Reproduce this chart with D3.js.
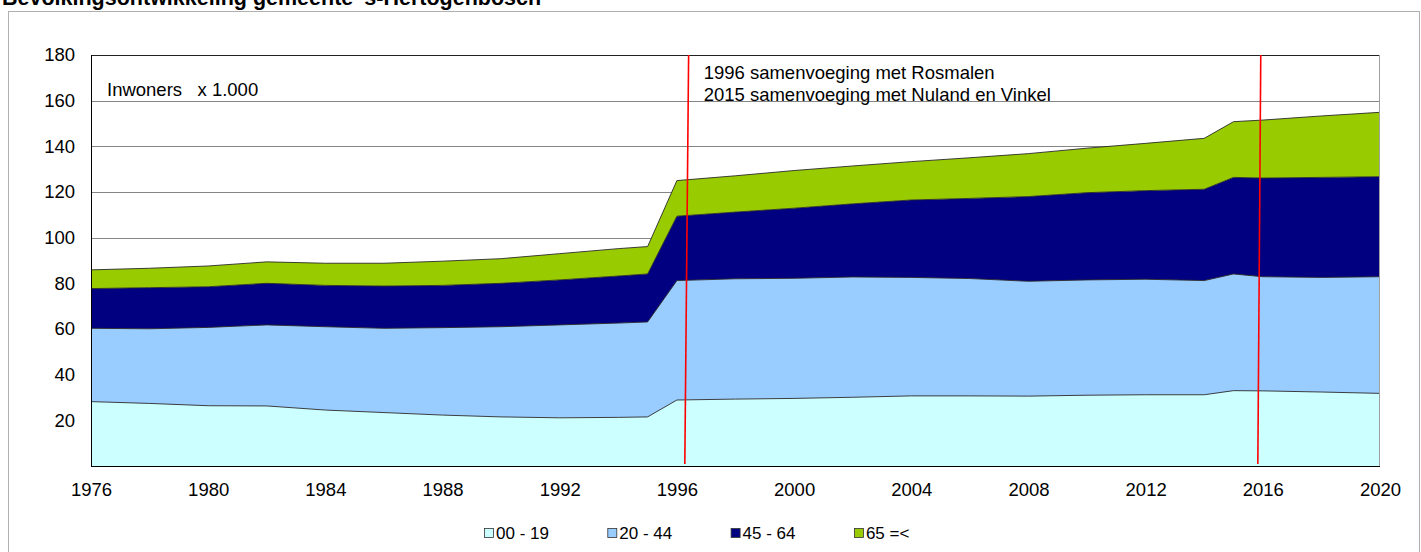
<!DOCTYPE html>
<html>
<head>
<meta charset="utf-8">
<script src="https://cdn.jsdelivr.net/npm/d3@7"></script>
<style>
    body { margin: 0; background: #fff; }
    svg { display: block; font-family: "Liberation Sans", Arial, sans-serif; }
</style>
</head>
<body>
<svg width="1421" height="552"></svg>
<script>
"use strict"

// inwoners x 1.000
const years = [1976, 1978, 1980, 1982, 1984, 1986, 1988, 1990, 1992, 1994, 1995, 1996, 1998, 2000, 2002, 2004, 2006, 2008, 2010, 2012, 2014, 2015, 2016, 2018, 2020]
const age0019 = [28.2, 27.4, 26.4, 26.3, 24.5, 23.4, 22.3, 21.5, 21.1, 21.3, 21.5, 28.9, 29.3, 29.6, 30.1, 30.7, 30.7, 30.6, 31.0, 31.2, 31.2, 33.0, 32.9, 32.4, 31.8]
const age2044 = [32.1, 32.7, 34.3, 35.5, 36.5, 36.9, 38.3, 39.5, 40.7, 41.3, 41.6, 52.3, 52.7, 52.6, 52.7, 51.9, 51.4, 50.3, 50.5, 50.6, 50.0, 51.1, 50.0, 50.2, 51.1]
const age4564 = [17.4, 18.0, 17.8, 18.2, 18.1, 18.5, 18.5, 19.0, 19.7, 20.6, 21.0, 28.2, 29.2, 30.7, 32.0, 33.9, 35.1, 37.1, 38.2, 38.8, 40.0, 42.3, 43.2, 43.8, 43.8]
const age65plus = [8.2, 8.5, 9.1, 9.4, 9.7, 10.0, 10.6, 10.8, 11.5, 12.0, 12.0, 15.6, 15.9, 16.5, 16.6, 16.8, 17.8, 18.8, 19.5, 20.7, 22.3, 24.4, 25.4, 26.9, 28.2]

const seriesKeys = ["00 - 19", "20 - 44", "45 - 64", "65 =<"]
const seriesValues = [age0019, age2044, age4564, age65plus]
const seriesColors = ["#ccffff", "#99ccff", "#000080", "#99cc00"]

const yTicks = [20, 40, 60, 80, 100, 120, 140, 160, 180]
const xTicks = [1976, 1980, 1984, 1988, 1992, 1996, 2000, 2004, 2008, 2012, 2016, 2020]

// merger markers (year at top, year at bottom - drawn slightly slanted)
const mergerLines = [[1996.4, 1996.27], [2015.93, 2015.83]]
const mergerNotes = ["1996 samenvoeging met Rosmalen", "2015 samenvoeging met Nuland en Vinkel"]

const title = "Bevolkingsontwikkeling gemeente 's-Hertogenbosch"
const unitLabel = "Inwoners   x 1.000"

const plot = { left: 91, right: 1380, top: 55, bottom: 466 }

const svg = d3.select("svg")

const x = d3.scaleLinear().domain([1976, 2020]).range([plot.left, plot.right])
const y = d3.scaleLinear().domain([0, 180]).range([plot.bottom, plot.top])

// outer chart frame
svg.append("rect")
    .attr("x", 8.5)
    .attr("y", 11.5)
    .attr("width", 1411)
    .attr("height", 600)
    .attr("fill", "none")
    .attr("stroke", "#b0b0b0")

svg.append("text")
    .attr("x", 2)
    .attr("y", 4.5)
    .attr("font-size", "21.5px")
    .attr("font-weight", "bold")
    .attr("fill", "#000")
    .text(title)

// gridlines
svg.append("g")
    .selectAll("line")
    .data(yTicks)
    .join("line")
    .attr("x1", plot.left)
    .attr("x2", plot.right)
    .attr("y1", (d) => Math.round(y(d)) + 0.5)
    .attr("y2", (d) => Math.round(y(d)) + 0.5)
    .attr("stroke", (d) => (d === 180 ? "#222" : "#858585"))

const table = years.map((year, i) => {
    const row = { year: year }
    seriesKeys.forEach((key, k) => (row[key] = seriesValues[k][i]))
    return row
})

const stacked = d3.stack().keys(seriesKeys)(table)

const area = d3.area()
    .x((d) => x(d.data.year))
    .y0((d) => y(d[0]))
    .y1((d) => y(d[1]))

const topLine = d3.line()
    .x((d) => x(d.data.year))
    .y((d) => y(d[1]))

svg.append("g")
    .selectAll("path")
    .data(stacked)
    .join("path")
    .attr("d", area)
    .attr("fill", (d, i) => seriesColors[i])

svg.append("g")
    .selectAll("path")
    .data(stacked)
    .join("path")
    .attr("d", topLine)
    .attr("fill", "none")
    .attr("stroke", "#2a2a2a")
    .attr("stroke-width", 0.9)

// plot frame
svg.append("line")
    .attr("x1", plot.right - 0.5).attr("x2", plot.right - 0.5)
    .attr("y1", plot.top).attr("y2", plot.bottom)
    .attr("stroke", "#a0a0a0")
svg.append("line")
    .attr("x1", plot.left + 0.5).attr("x2", plot.left + 0.5)
    .attr("y1", plot.top).attr("y2", plot.bottom + 1)
    .attr("stroke", "#000")
svg.append("line")
    .attr("x1", plot.left).attr("x2", plot.right)
    .attr("y1", plot.bottom + 0.5).attr("y2", plot.bottom + 0.5)
    .attr("stroke", "#000")

// axes
const yAxis = svg.append("g")
    .attr("transform", `translate(${plot.left},0)`)
    .call(d3.axisLeft(y).tickValues(yTicks).tickSize(0).tickPadding(16))
yAxis.select(".domain").remove()

const xAxis = svg.append("g")
    .attr("transform", `translate(0,${plot.bottom})`)
    .call(d3.axisBottom(x).tickValues(xTicks).tickFormat(d3.format("d")).tickSize(0).tickPadding(17))
xAxis.select(".domain").remove()

svg.selectAll(".tick text")
    .attr("font-family", "Liberation Sans, Arial, sans-serif")
    .attr("font-size", "18.5px")
    .attr("fill", "#000")

// merger markers
svg.append("g")
    .selectAll("line")
    .data(mergerLines)
    .join("line")
    .attr("x1", (d) => x(d[0]))
    .attr("x2", (d) => x(d[1]))
    .attr("y1", plot.top)
    .attr("y2", plot.bottom - 2)
    .attr("stroke", "#ff0000")
    .attr("stroke-width", 1.6)

svg.append("g")
    .selectAll("text")
    .data(mergerNotes)
    .join("text")
    .attr("x", x(mergerLines[0][0]) + 15)
    .attr("y", (d, i) => 79 + i * 22)
    .attr("font-size", "18.5px")
    .attr("fill", "#000")
    .text((d) => d)

svg.append("text")
    .attr("x", 107)
    .attr("y", 96)
    .attr("font-size", "18.5px")
    .attr("fill", "#000")
    .style("white-space", "pre")
    .text(unitLabel)

// legend
const legend = svg.append("g")
    .selectAll("g")
    .data(seriesKeys)
    .join("g")
    .attr("transform", (d, i) => `translate(${484 + i * 123.3},528)`)

legend.append("rect")
    .attr("x", 0.5)
    .attr("y", 0.5)
    .attr("width", 9)
    .attr("height", 9)
    .attr("fill", (d, i) => seriesColors[i])
    .attr("stroke", "#333")
    .attr("stroke-width", 0.8)

legend.append("text")
    .attr("x", 12)
    .attr("y", 10.5)
    .attr("font-size", "17px")
    .attr("fill", "#000")
    .text((d) => d)
</script>
</body>
</html>
